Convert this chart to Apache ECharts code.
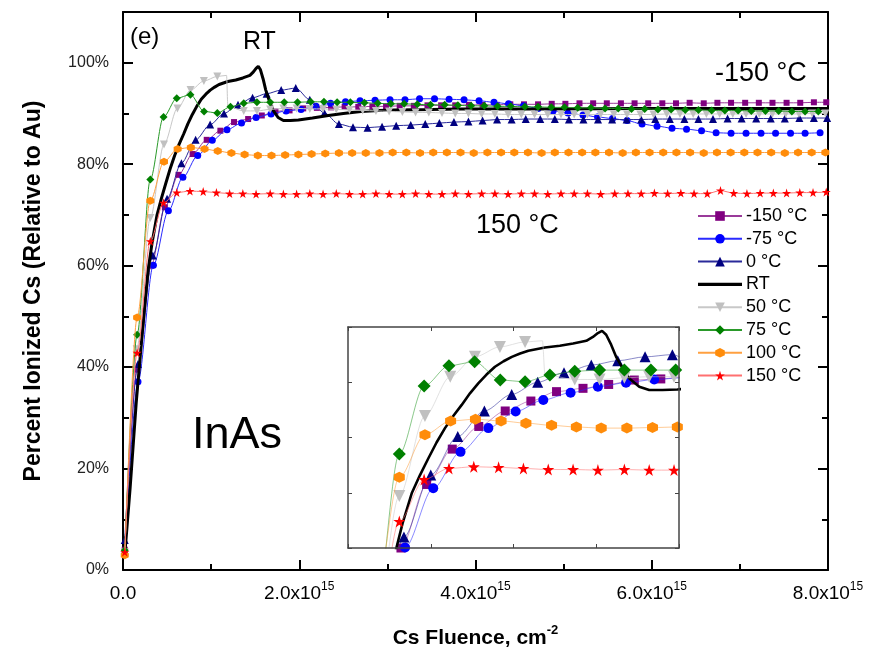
<!DOCTYPE html>
<html><head><meta charset="utf-8">
<script src="https://cdn.jsdelivr.net/npm/echarts@6/dist/echarts.min.js"></script>
<style>html,body{margin:0;padding:0;background:#fff}#c{width:870px;height:661px}</style>
</head><body><div id="c"></div>
<script>
// Fluence in units of 1e15 cm^-2, ionized fraction in %
const legendNames = ['-150 °C', '-75 °C', '0 °C', 'RT', '50 °C', '75 °C', '100 °C', '150 °C'];
const xTicks = [0, 2, 4, 6, 8];
const yTicks = [0, 20, 40, 60, 80, 100];

const x_m150 = [0.02, 0.16, 0.32, 0.475, 0.63, 0.79, 0.95, 1.105, 1.26, 1.42, 1.575, 1.73, 1.89, 2.045, 2.2, 2.36, 2.515, 2.67, 2.83, 2.985, 3.14, 3.3, 3.455, 3.61, 3.77, 3.925, 4.08, 4.24, 4.395, 4.55, 4.71, 4.865, 5.02, 5.18, 5.335, 5.49, 5.65, 5.805, 5.96, 6.12, 6.275, 6.43, 6.59, 6.745, 6.9, 7.06, 7.215, 7.37, 7.53, 7.685, 7.84, 7.98];
const y_m150 = [4.0, 39.5, 60.0, 71.5, 77.9, 82.0, 84.8, 86.6, 88.3, 88.9, 89.6, 90.4, 90.6, 91.0, 91.1, 91.2, 91.3, 91.3, 91.4, 91.4, 91.5, 91.5, 91.6, 91.6, 91.6, 91.7, 91.7, 91.7, 91.8, 91.8, 91.8, 91.9, 91.9, 92.0, 92.0, 92.0, 92.0, 92.0, 92.0, 92.0, 92.0, 92.1, 92.0, 92.1, 92.1, 92.1, 92.1, 92.1, 92.1, 92.1, 92.2, 92.2];

const x_m75 = [0.02, 0.17, 0.345, 0.515, 0.68, 0.848, 1.013, 1.18, 1.345, 1.51, 1.68, 1.85, 2.02, 2.19, 2.355, 2.525, 2.69, 2.86, 3.03, 3.2, 3.365, 3.535, 3.7, 3.87, 4.04, 4.21, 4.375, 4.545, 4.71, 4.88, 5.05, 5.22, 5.385, 5.555, 5.72, 5.89, 6.06, 6.23, 6.395, 6.565, 6.73, 6.9, 7.07, 7.24, 7.405, 7.575, 7.74, 7.91];
const y_m75 = [3.0, 37.1, 60.1, 70.8, 77.4, 81.7, 84.7, 86.8, 88.1, 89.2, 89.9, 90.5, 90.8, 91.4, 92.0, 92.3, 92.5, 92.6, 92.7, 92.7, 92.9, 92.9, 92.8, 92.7, 92.5, 92.2, 91.9, 91.5, 91.0, 90.5, 90.1, 89.7, 89.3, 89.0, 88.6, 87.9, 87.5, 87.1, 86.9, 86.6, 86.2, 86.1, 86.1, 86.1, 86.1, 86.1, 86.1, 86.2];

const x_0 = [0.02, 0.17, 0.338, 0.50, 0.663, 0.824, 0.989, 1.146, 1.305, 1.47, 1.63, 1.795, 1.96, 2.12, 2.285, 2.45, 2.61, 2.775, 2.94, 3.1, 3.265, 3.43, 3.59, 3.755, 3.92, 4.08, 4.245, 4.41, 4.57, 4.735, 4.9, 5.06, 5.225, 5.39, 5.55, 5.715, 5.88, 6.04, 6.205, 6.37, 6.53, 6.695, 6.86, 7.02, 7.185, 7.35, 7.51, 7.675, 7.84, 7.99];
const y_0 = [5.9, 40.6, 62.0, 73.2, 80.2, 84.8, 87.8, 90.0, 91.7, 93.1, 93.9, 94.6, 95.0, 92.7, 90.1, 87.9, 87.3, 87.2, 87.4, 87.6, 87.7, 87.9, 88.1, 88.3, 88.4, 88.6, 88.8, 88.8, 88.9, 88.9, 88.9, 88.8, 88.8, 88.8, 88.8, 88.8, 88.8, 88.9, 88.9, 88.9, 88.9, 88.9, 89.0, 89.0, 89.0, 89.0, 89.0, 89.1, 89.1, 89.1];

const x_rt = [0.02, 0.08, 0.15, 0.22, 0.284, 0.33, 0.385, 0.435, 0.485, 0.535, 0.586, 0.636, 0.687, 0.737, 0.787, 0.837, 0.888, 0.94, 0.99, 1.04, 1.09, 1.19, 1.28, 1.36, 1.44, 1.48, 1.51, 1.535, 1.56, 1.59, 1.62, 1.66, 1.70, 1.76, 1.82, 1.9, 1.99, 2.15, 2.33, 2.5, 2.7, 2.9, 3.08, 3.5, 3.84, 4.4, 5.0, 5.8, 6.5, 7.2, 8.0];
const y_rt = [3.0, 16.0, 33.0, 47.0, 59.0, 64.5, 69.9, 73.2, 76.2, 79.1, 81.7, 83.9, 85.9, 88.0, 89.8, 91.4, 92.8, 93.8, 94.6, 95.2, 95.7, 96.3, 96.6, 97.0, 97.5, 98.2, 98.9, 99.3, 98.6, 96.8, 94.6, 92.5, 90.7, 89.2, 88.6, 88.6, 88.7, 89.1, 89.6, 90.0, 90.4, 90.6, 90.7, 90.8, 90.9, 90.9, 90.9, 91.0, 91.0, 91.0, 91.0];

const x_50 = [0.02, 0.155, 0.31, 0.465, 0.618, 0.767, 0.918, 1.07, 1.175, 1.19, 1.37, 1.52, 1.67, 1.82, 1.97, 2.12, 2.27, 2.42, 2.57, 2.72, 2.87, 3.02, 3.17, 3.32, 3.47, 3.62, 3.77, 3.92, 4.07, 4.22, 4.37, 4.52, 4.67, 4.82, 4.97, 5.12, 5.27, 5.42, 5.57, 5.72, 5.87, 6.02, 6.17, 6.32, 6.47, 6.62, 6.77, 6.92, 7.07, 7.22, 7.37, 7.52, 7.67, 7.82, 7.97];
const y_50 = [3.5, 43.5, 69.4, 83.9, 91.0, 94.6, 96.4, 97.3, 97.5, 91.4, 90.5, 90.5, 90.8, 91.0, 91.0, 90.9, 90.9, 90.8, 90.7, 90.6, 90.5, 90.4, 90.3, 90.2, 90.2, 90.1, 90.0, 90.0, 89.9, 89.9, 89.8, 89.8, 89.8, 89.8, 89.8, 89.8, 89.8, 89.8, 89.8, 89.8, 89.8, 89.8, 89.9, 89.9, 89.9, 89.9, 89.9, 89.9, 89.9, 89.9, 89.9, 89.9, 89.9, 90.0, 90.0];
const noMarker_50 = [8, 9];

const x_75 = [0.02, 0.16, 0.31, 0.46, 0.61, 0.765, 0.92, 1.07, 1.22, 1.37, 1.52, 1.67, 1.83, 1.98, 2.13, 2.28, 2.43, 2.58, 2.74, 2.89, 3.04, 3.19, 3.34, 3.49, 3.65, 3.80, 3.95, 4.10, 4.25, 4.40, 4.56, 4.71, 4.86, 5.01, 5.16, 5.31, 5.47, 5.62, 5.77, 5.92, 6.07, 6.22, 6.38, 6.53, 6.68, 6.83, 6.98, 7.13, 7.29, 7.44, 7.59, 7.74, 7.89];
const y_75 = [3.9, 46.4, 77.0, 89.3, 93.0, 93.7, 90.4, 90.1, 91.3, 92.0, 92.2, 92.2, 92.2, 92.2, 92.3, 92.3, 92.2, 92.2, 92.1, 92.0, 91.9, 91.9, 91.8, 91.7, 91.7, 91.6, 91.5, 91.5, 91.4, 91.4, 91.3, 91.3, 91.2, 91.2, 91.1, 91.1, 91.0, 91.0, 90.9, 90.9, 90.8, 90.8, 90.7, 90.7, 90.6, 90.6, 90.6, 90.5, 90.5, 90.5, 90.4, 90.4, 90.4];

const x_100 = [0.02, 0.16, 0.31, 0.465, 0.62, 0.77, 0.925, 1.075, 1.23, 1.38, 1.53, 1.685, 1.84, 1.99, 2.14, 2.295, 2.45, 2.60, 2.755, 2.91, 3.06, 3.215, 3.37, 3.52, 3.675, 3.83, 3.98, 4.135, 4.29, 4.44, 4.595, 4.75, 4.90, 5.055, 5.21, 5.36, 5.515, 5.67, 5.82, 5.975, 6.13, 6.28, 6.435, 6.59, 6.74, 6.895, 7.05, 7.20, 7.355, 7.51, 7.66, 7.815, 7.97];
const y_100 = [2.9, 49.8, 72.8, 80.5, 83.0, 83.3, 83.0, 82.6, 82.2, 81.9, 81.7, 81.7, 81.8, 81.9, 82.0, 82.1, 82.2, 82.2, 82.2, 82.2, 82.3, 82.3, 82.2, 82.3, 82.3, 82.3, 82.2, 82.3, 82.3, 82.3, 82.3, 82.2, 82.3, 82.3, 82.3, 82.3, 82.3, 82.2, 82.3, 82.3, 82.3, 82.3, 82.3, 82.2, 82.3, 82.3, 82.3, 82.3, 82.3, 82.2, 82.3, 82.3, 82.3];

const x_150 = [0.02, 0.16, 0.31, 0.46, 0.61, 0.76, 0.91, 1.06, 1.21, 1.36, 1.51, 1.67, 1.82, 1.97, 2.12, 2.27, 2.42, 2.57, 2.72, 2.87, 3.02, 3.17, 3.32, 3.47, 3.62, 3.77, 3.92, 4.07, 4.22, 4.37, 4.52, 4.67, 4.82, 4.97, 5.12, 5.27, 5.42, 5.58, 5.73, 5.88, 6.03, 6.18, 6.33, 6.48, 6.63, 6.78, 6.93, 7.08, 7.23, 7.38, 7.53, 7.68, 7.83, 7.98];
const y_150 = [3.5, 42.8, 64.8, 72.4, 74.4, 74.7, 74.6, 74.4, 74.2, 74.2, 74.1, 74.2, 74.1, 74.1, 74.2, 74.1, 74.2, 74.1, 74.1, 74.2, 74.1, 74.1, 74.2, 74.1, 74.1, 74.2, 74.1, 74.2, 74.2, 74.1, 74.2, 74.2, 74.1, 74.2, 74.2, 74.2, 74.1, 74.2, 74.2, 74.2, 74.3, 74.2, 74.3, 74.2, 74.2, 74.8, 74.3, 74.2, 74.3, 74.3, 74.3, 74.4, 74.4, 74.5];

const FONT = "'Liberation Sans', Arial, Helvetica, sans-serif";
const STAR = 'path://M5,0 L6.18,3.6 L10,3.6 L6.9,5.85 L8.1,9.5 L5,7.25 L1.9,9.5 L3.1,5.85 L0,3.6 L3.82,3.6 Z';
const HEX = 'path://M5,0 L9.33,2.5 L9.33,7.5 L5,10 L0.67,7.5 L0.67,2.5 Z';
const TRI_DOWN = 'path://M0,0 L10,0 L5,8.66 Z';
const THICK_LINE = 'path://M0,0 L0.01,0 M0,4.3 L44,4.3 L44,7.7 L0,7.7 Z M43.99,12 L44,12';

const defs = [
  {x: x_m150, y: y_m150, color: '#800080', line: '#9a3a9a', symbol: 'rect', size: 6, isize: 9},
  {x: x_m75, y: y_m75, color: '#0000ff', line: '#2a2aff', symbol: 'circle', size: 7, isize: 10},
  {x: x_0, y: y_0, color: '#000080', line: '#2a2a9a', symbol: 'triangle', size: 8, isize: 11},
  {x: x_rt, y: y_rt, color: '#000000', line: '#000000', symbol: 'none', size: 0, isize: 0, width: 3},
  {x: x_50, y: y_50, color: '#c0c0c0', line: '#c8c8c8', symbol: TRI_DOWN, size: 8, isize: 12, hide: noMarker_50},
  {x: x_75, y: y_75, color: '#008000', line: '#2a9a2a', symbol: 'diamond', size: 8, isize: 13},
  {x: x_100, y: y_100, color: '#ff8c0a', line: '#ffa040', symbol: HEX, size: 8, isize: 11},
  {x: x_150, y: y_150, color: '#ff0000', line: '#ff7070', symbol: STAR, size: 9, isize: 12}
];

function buildData(d) {
  return d.x.map((xv, i) => {
    if (d.hide && d.hide.indexOf(i) >= 0) return {value: [xv, d.y[i]], symbol: 'none'};
    return [xv, d.y[i]];
  });
}

const series = [];
defs.forEach((d, k) => {
  series.push({
    name: legendNames[k], type: 'line', xAxisIndex: 0, yAxisIndex: 0,
    data: buildData(d), symbol: d.symbol, symbolSize: d.size, showAllSymbol: true,
    smooth: d.symbol === 'none' ? false : 0.3, smoothMonotone: 'x',
    lineStyle: {color: d.line, width: d.width || 1},
    itemStyle: {color: d.color}, emphasis: {disabled: true}, animation: false, z: 2 + k
  });
  series.push({
    name: legendNames[k], type: 'line', xAxisIndex: 2, yAxisIndex: 2,
    data: buildData(d), symbol: d.symbol, symbolSize: d.isize, showAllSymbol: true, clip: true,
    smooth: d.symbol === 'none' ? false : 0.3, smoothMonotone: 'x',
    lineStyle: {color: d.line, width: d.width ? 2.6 : 1, opacity: d.width ? 1 : 0.55},
    itemStyle: {color: d.color}, emphasis: {disabled: true}, animation: false, z: 20 + k
  });
});

const axisCommon = {
  axisLine: {show: true, onZero: false, lineStyle: {color: '#000', width: 2}},
  axisTick: {show: true, inside: true, length: 10, lineStyle: {color: '#000', width: 2}},
  minorTick: {show: true, splitNumber: 2, length: 6, lineStyle: {color: '#000', width: 2}},
  splitLine: {show: false}, minorSplitLine: {show: false}
};
const insetCommon = {
  axisLine: {show: true, onZero: false, lineStyle: {color: '#444', width: 1.5}},
  axisTick: {show: true, inside: true, length: 4, lineStyle: {color: '#444', width: 1}},
  axisLabel: {show: false}, splitLine: {show: false}, z: 30
};

const option = {
  backgroundColor: '#fff',
  animation: false,
  grid: [
    {left: 123, right: 42, top: 12, bottom: 91, show: false},
    {left: 348, top: 327, width: 331, height: 221, show: true, backgroundColor: '#fff', borderWidth: 0, z: 1}
  ],
  xAxis: [
    Object.assign({}, axisCommon, {
      gridIndex: 0, type: 'value', min: 0, max: 8, interval: 2, position: 'bottom',
      axisLabel: {
        margin: 11, color: '#000',
        formatter: v => v === 0 ? '{b|0.0}' : '{b|' + v.toFixed(1) + 'x10}{s|15}',
        rich: {b: {fontSize: 19, fontFamily: FONT, color: '#000', lineHeight: 22, verticalAlign: 'bottom'},
               s: {fontSize: 12, fontFamily: FONT, color: '#000', lineHeight: 22, verticalAlign: 'top', padding: [0, 0, 9, 0]}}
      },
      name: '{t|Cs Fluence, cm}{s|-2}', nameLocation: 'middle', nameGap: 54,
      nameTextStyle: {rich: {t: {fontSize: 21, fontWeight: 'bold', fontFamily: FONT, color: '#000', lineHeight: 25, verticalAlign: 'bottom'},
                             s: {fontSize: 13, fontWeight: 'bold', fontFamily: FONT, color: '#000', lineHeight: 25, verticalAlign: 'top', padding: [0, 0, 11, 0]}}}
    }),
    Object.assign({}, axisCommon, {
      gridIndex: 0, type: 'value', min: 0, max: 8, interval: 2, position: 'top', axisLabel: {show: false}
    }),
    Object.assign({}, insetCommon, {gridIndex: 1, type: 'value', min: 0, max: 2, interval: 0.5, position: 'bottom'}),
    Object.assign({}, insetCommon, {gridIndex: 1, type: 'value', min: 0, max: 2, interval: 0.5, position: 'top'})
  ],
  yAxis: [
    Object.assign({}, axisCommon, {
      gridIndex: 0, type: 'value', min: 0, max: 110, interval: 20, position: 'left',
      axisLabel: {margin: 14, color: '#222', fontSize: 16, fontFamily: FONT, showMaxLabel: false,
                  formatter: v => v > 100 ? '' : v + '%'},
      name: 'Percent Ionized Cs (Relative to Au)', nameLocation: 'middle', nameGap: 78,
      nameTextStyle: {fontSize: 23, fontWeight: 'bold', fontFamily: FONT, color: '#000'}
    }),
    Object.assign({}, axisCommon, {
      gridIndex: 0, type: 'value', min: 0, max: 110, interval: 20, position: 'right', axisLabel: {show: false}
    }),
    Object.assign({}, insetCommon, {gridIndex: 1, type: 'value', min: 60, max: 100, interval: 10, position: 'left'}),
    Object.assign({}, insetCommon, {gridIndex: 1, type: 'value', min: 60, max: 100, interval: 10, position: 'right'})
  ],
  legend: {
    data: legendNames.map(n => n === 'RT' ? {name: n, icon: THICK_LINE} : {name: n}),
    orient: 'vertical', left: 697, top: 207, padding: 0,
    itemWidth: 44, itemHeight: 12, itemGap: 4.8,
    textStyle: {fontSize: 18, fontFamily: FONT, color: '#000', lineHeight: 17, padding: [0, 0, 0, -1]},
    selectedMode: false
  },
  graphic: [
    {type: 'text', left: 130, top: 25, style: {text: '(e)', fontSize: 24, fontFamily: FONT, fill: '#000'}},
    {type: 'text', left: 243, top: 30, style: {text: 'RT', fontSize: 25, fontFamily: FONT, fill: '#000'}},
    {type: 'text', left: 715, top: 60, style: {text: '-150 °C', fontSize: 27, fontFamily: FONT, fill: '#000'}},
    {type: 'text', left: 476, top: 212, style: {text: '150 °C', fontSize: 27, fontFamily: FONT, fill: '#000'}},
    {type: 'text', left: 192, top: 413, style: {text: 'InAs', fontSize: 45, fontFamily: FONT, fill: '#000'}}
  ],
  series: series
};

const chart = echarts.init(document.getElementById('c'), null, {renderer: 'canvas'});
chart.setOption(option);
</script>
</body></html>
